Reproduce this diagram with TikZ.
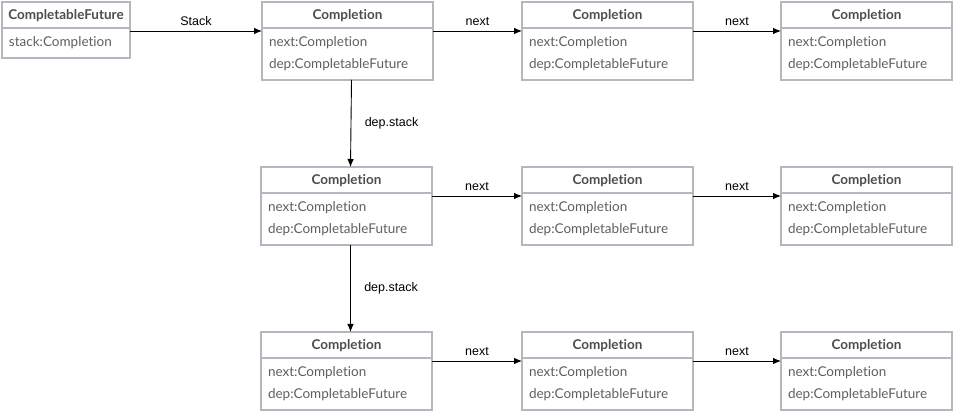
\documentclass[tikz,border=0pt]{standalone}
\usepackage{fontspec}
\usepackage{tikz}
\usetikzlibrary{arrows.meta,positioning}
\newfontfamily\boxfont[Ligatures=NoCommon]{Lato}
\newfontfamily\labelfont{Liberation Sans}
\definecolor{boxgray}{RGB}{180,184,188}
\definecolor{headgray}{RGB}{77,77,77}
\definecolor{fieldgray}{RGB}{95,95,95}

\begin{document}
\begin{tikzpicture}[x=1pt,y=-1pt,>={Latex[length=8pt,width=6.5pt]}]
        \tikzstyle{head}=[draw=boxgray,line width=1.5pt,outer sep=0pt,inner sep=0pt,minimum width=171pt,minimum height=26pt,text depth=2pt,text=headgray,font=\boxfont\bfseries\fontsize{13.5}{15}\selectfont]
        \tikzstyle{body}=[draw=boxgray,line width=1.5pt,outer sep=0pt,inner sep=0pt,minimum width=171pt,minimum height=52pt,text width=157pt,align=left,text=fieldgray,font=\boxfont\fontsize{13.5}{22}\selectfont]
        \tikzstyle{link}=[->,line width=0.9pt]
        \tikzstyle{lbl}=[font=\labelfont\fontsize{12.5}{14}\selectfont]

        \useasboundingbox (0,0) rectangle (954,411);

        % CompletableFuture
        \node[head,minimum width=128pt] (cfh) at (66,15) {CompletableFuture};
        \node[body,minimum width=128pt,minimum height=30pt,text width=114pt,below=0pt of cfh] (cfb) {stack:Completion};

        % Row 1
        \node[head] (c11h) at (347.5,15) {Completion};
        \node[body,below=0pt of c11h] (c11b) {next:Completion\\dep:CompletableFuture};
        \node[head] (c12h) at (607.5,15) {Completion};
        \node[body,below=0pt of c12h] (c12b) {next:Completion\\dep:CompletableFuture};
        \node[head] (c13h) at (866.5,15) {Completion};
        \node[body,below=0pt of c13h] (c13b) {next:Completion\\dep:CompletableFuture};

        % Row 2
        \node[head] (c21h) at (346.5,180) {Completion};
        \node[body,below=0pt of c21h] (c21b) {next:Completion\\dep:CompletableFuture};
        \node[head] (c22h) at (607.5,180) {Completion};
        \node[body,below=0pt of c22h] (c22b) {next:Completion\\dep:CompletableFuture};
        \node[head] (c23h) at (866.5,180) {Completion};
        \node[body,below=0pt of c23h] (c23b) {next:Completion\\dep:CompletableFuture};

        % Row 3
        \node[head] (c31h) at (346.5,345) {Completion};
        \node[body,below=0pt of c31h] (c31b) {next:Completion\\dep:CompletableFuture};
        \node[head] (c32h) at (607.5,345) {Completion};
        \node[body,below=0pt of c32h] (c32b) {next:Completion\\dep:CompletableFuture};
        \node[head] (c33h) at (866.5,345) {Completion};
        \node[body,below=0pt of c33h] (c33b) {next:Completion\\dep:CompletableFuture};

        % --- next links ---
        \draw[link] ([yshift=-3pt]cfh.south east) -- node[lbl,above=2pt] {Stack} ([yshift=-3pt]c11h.south west);
        \draw[link] ([yshift=-3pt]c11h.south east) -- node[lbl,above=2pt] {next} ([yshift=-3pt]c12h.south west);
        \draw[link] ([yshift=-3pt]c12h.south east) -- node[lbl,above=2pt] {next} ([yshift=-3pt]c13h.south west);
        \draw[link] ([yshift=-3pt]c21h.south east) -- node[lbl,above=2pt] {next} ([yshift=-3pt]c22h.south west);
        \draw[link] ([yshift=-3pt]c22h.south east) -- node[lbl,above=2pt] {next} ([yshift=-3pt]c23h.south west);
        \draw[link] ([yshift=-3pt]c31h.south east) -- node[lbl,above=2pt] {next} ([yshift=-3pt]c32h.south west);
        \draw[link] ([yshift=-3pt]c32h.south east) -- node[lbl,above=2pt] {next} ([yshift=-3pt]c33h.south west);

        % --- dep.stack links ---
        \draw[link] ([xshift=4pt]c11b.south) -- node[lbl,right=10pt] {dep.stack} ([xshift=4pt]c21h.north);
        \draw[link] ([xshift=4pt]c21b.south) -- node[lbl,right=10pt] {dep.stack} ([xshift=4pt]c31h.north);
\end{tikzpicture}
\end{document}
